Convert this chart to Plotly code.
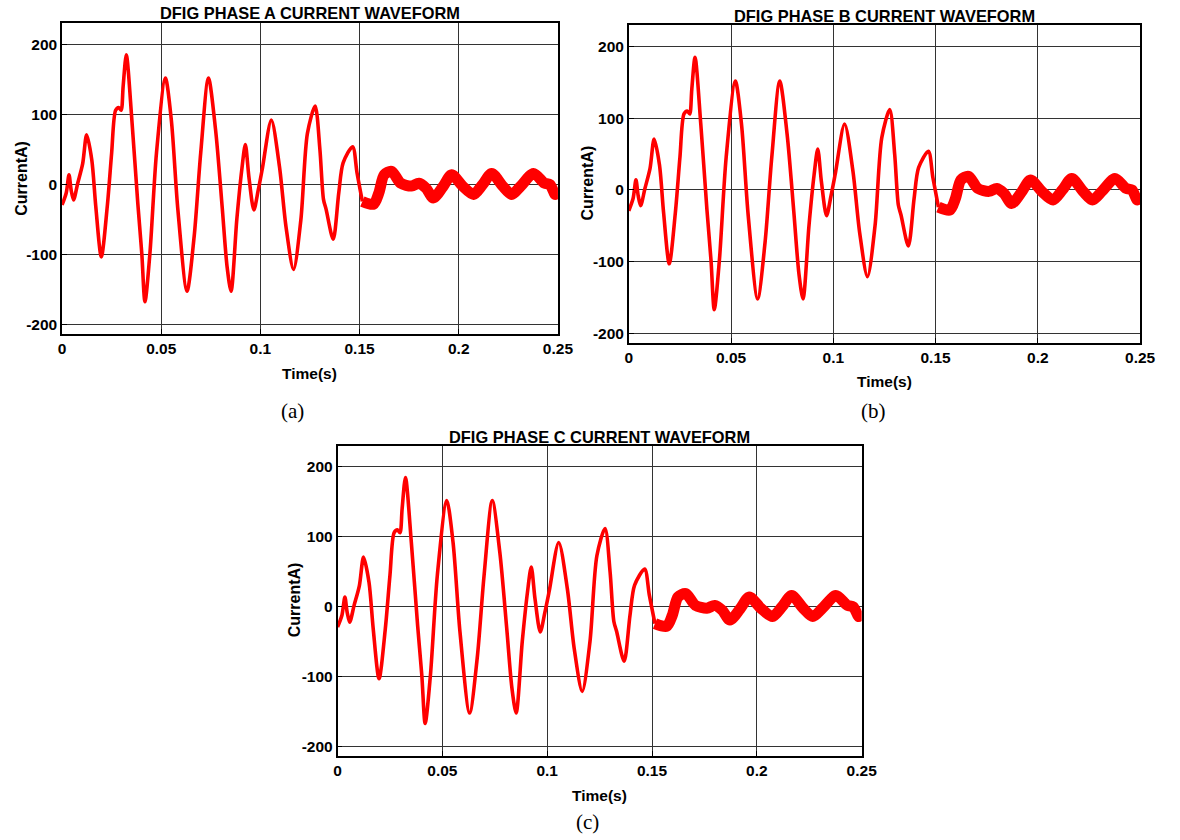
import plotly.graph_objects as go

# Stator current of the DFIG, sampled at the turning points of the trace (s, A)
time_s = [
    0.0000, 0.0021, 0.0035, 0.0046, 0.0058, 0.0079, 0.0104, 0.0124, 0.0150, 0.0170,
    0.0198, 0.0228, 0.0250, 0.0270, 0.0286, 0.0298, 0.0308, 0.0324, 0.0352, 0.0382,
    0.0402, 0.0418, 0.0443, 0.0476, 0.0521, 0.0551, 0.0584, 0.0630, 0.0666, 0.0699,
    0.0738, 0.0774, 0.0807, 0.0832, 0.0852, 0.0881, 0.0906, 0.0924, 0.0942, 0.0967,
    0.0989, 0.1010, 0.1055, 0.1096, 0.1129, 0.1167, 0.1204, 0.1237, 0.1276, 0.1300,
    0.1318, 0.1331, 0.1367, 0.1395, 0.1417, 0.1465, 0.1487, 0.1514, 0.1570, 0.1597,
    0.1624, 0.1661, 0.1707, 0.1762, 0.1799, 0.1835, 0.1872, 0.1920, 0.1964, 0.2019,
    0.2074, 0.2120, 0.2166, 0.2221, 0.2267, 0.2313, 0.2377, 0.2432, 0.2460, 0.2487,
    0.2500,
]
phase_current = [
    -29, -12, 14, -8, -22, 2, 30, 71, 35, -31,
    -103, -31, 45, 106, 110, 106, 140, 185, 92, -27,
    -98, -167, -98, 45, 152, 92, -36, -152, -74, 45,
    152, 78, -31, -117, -152, -50, 21, 57, 11, -36,
    -8, 23, 92, 26, -60, -121, -50, 73, 112, 50,
    -21, -35, -78, -12, 31, 54, 17, -24, -28, -12,
    14, 19, 2, -2, 2, -5, -19, -3, 14, -2,
    -14, 0, 16, -2, -14, -2, 16, 2, 0, -14,
    -7,
]
fault_clear_s = 0.1514  # after this the ripple band of the converter is visible

phases = ["A", "B", "C"]
captions = ["(a)", "(b)", "(c)"]
x_ticks = [0, 0.05, 0.1, 0.15, 0.2, 0.25]
x_tick_text = ["0", "0.05", "0.1", "0.15", "0.2", "0.25"]
y_ticks = [-200, -100, 0, 100, 200]
y_tick_text = ["-200", "-100", "0", "100", "200"]

W, H = 1180, 840
# plot boxes in pixels: left, top, right, bottom
boxes = [(59, 23.3, 563, 334), (635, 25, 1154.7, 342.7), (339, 446, 871.7, 755.7)]
title_y = [13, 16, 437]
xlabel_y = [373, 382, 795]
ylabel_xy = [(17, 178), (593, 183), (295, 600)]
caption_xy = [(293, 411), (884, 411), (593, 822)]

SANS = "Liberation Sans, Arial, sans-serif"
SERIF = "Liberation Serif, Times New Roman, serif"
RED = "#ff0000"


def px(x, y):
    return x / W, 1 - y / H


fig = go.Figure()
annotations = []

split = time_s.index(fault_clear_s)
for k, ph in enumerate(phases):
    xa = "x" if k == 0 else f"x{k + 1}"
    ya = "y" if k == 0 else f"y{k + 1}"
    fig.add_trace(go.Scatter(
        x=time_s[:split + 1], y=phase_current[:split + 1], mode="lines",
        line=dict(color=RED, width=3.6, shape="spline", smoothing=0.8),
        xaxis=xa, yaxis=ya, showlegend=False, hoverinfo="skip"))
    fig.add_trace(go.Scatter(
        x=time_s[split:], y=phase_current[split:], mode="lines",
        line=dict(color=RED, width=11, shape="spline", smoothing=0.8),
        xaxis=xa, yaxis=ya, showlegend=False, hoverinfo="skip"))

    l, t, r, b = boxes[k]
    x0, y1 = px(l, t)
    x1, y0 = px(r, b)
    axis_common = dict(
        showline=True, linecolor="black", linewidth=1.5, mirror=True,
        showgrid=True, gridcolor="#333333", gridwidth=1,
        zeroline=False, ticks="inside", ticklen=5, tickcolor="black",
        tickfont=dict(family=SANS, size=15.5, color="black", weight="bold"),
        fixedrange=True,
    )
    suffix = "" if k == 0 else str(k + 1)
    fig.layout[f"xaxis{suffix}"] = dict(
        axis_common, domain=[x0, x1], range=[0, 0.25], anchor=ya,
        tickvals=x_ticks, ticktext=x_tick_text)
    fig.layout[f"yaxis{suffix}"] = dict(
        axis_common, domain=[y0, y1], range=[-213, 230], anchor=xa,
        tickvals=y_ticks, ticktext=y_tick_text)

    cx = (l + r) / 2
    ax, ay = px(cx, title_y[k])
    annotations.append(dict(
        text=f"DFIG PHASE {ph} CURRENT WAVEFORM", x=ax, y=ay, xref="paper", yref="paper",
        showarrow=False, xanchor="center", yanchor="middle",
        font=dict(family=SANS, size=16.4, color="black", weight="bold")))
    ax, ay = px(cx, xlabel_y[k])
    annotations.append(dict(
        text="Time(s)", x=ax, y=ay, xref="paper", yref="paper",
        showarrow=False, xanchor="center", yanchor="middle",
        font=dict(family=SANS, size=15.5, color="black", weight="bold")))
    ax, ay = px(*ylabel_xy[k])
    annotations.append(dict(
        text="CurrentA)", x=ax, y=ay, xref="paper", yref="paper", textangle=-90,
        showarrow=False, xanchor="center", yanchor="middle",
        font=dict(family=SANS, size=16, color="black", weight="bold")))
    ax, ay = px(*caption_xy[k])
    annotations.append(dict(
        text=captions[k], x=ax, y=ay, xref="paper", yref="paper",
        showarrow=False, xanchor="center", yanchor="middle",
        font=dict(family=SERIF, size=21, color="black")))

fig.update_layout(
    width=W, height=H, margin=dict(l=0, r=0, t=0, b=0),
    paper_bgcolor="white", plot_bgcolor="white",
    annotations=annotations, showlegend=False,
)

fig.write_html("out.html", config={"displayModeBar": False})
